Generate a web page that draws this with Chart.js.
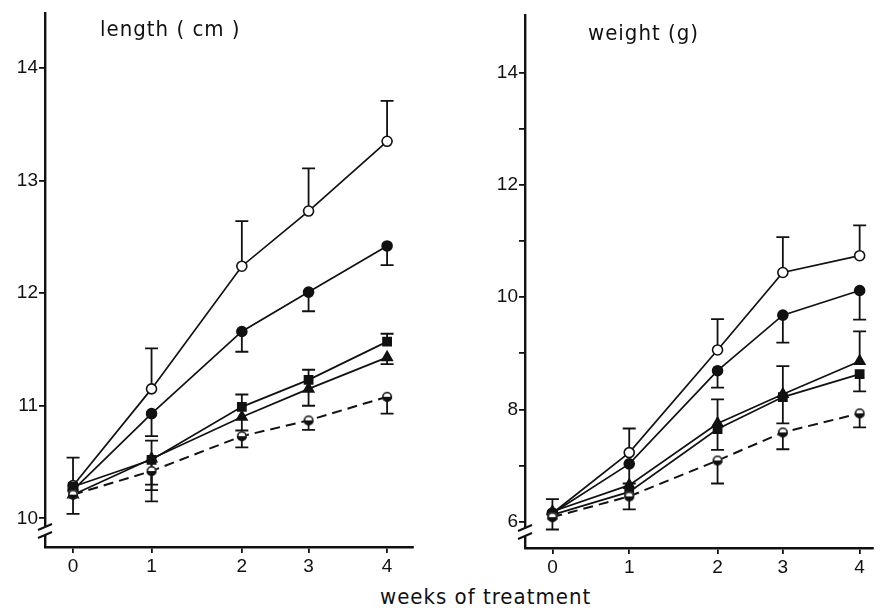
<!DOCTYPE html>
<html>
<head>
<meta charset="utf-8">
<script src="https://cdn.jsdelivr.net/npm/chart.js@4.4.0/dist/chart.umd.min.js"></script>
<style>
  body { margin: 0; background: #fff; width: 880px; height: 611px; position: relative; overflow: hidden; }
  #left-wrap { position: absolute; left: 0; top: 0; width: 430px; height: 575px; }
  #right-wrap { position: absolute; left: 430px; top: 0; width: 450px; height: 575px; }
  #xtitle { position: absolute; left: 380px; top: 584px; font: 22px "DejaVu Sans Condensed", "DejaVu Sans", sans-serif; letter-spacing: 1px; color: #111; white-space: nowrap; }
</style>
</head>
<body>
<div id="left-wrap"><canvas id="length-chart"></canvas></div>
<div id="right-wrap"><canvas id="weight-chart"></canvas></div>
<div id="xtitle">weeks of treatment</div>
<script>
// --- x positions of the weekly measurements (as plotted) and their labels ---
const weekPos = [0, 1, 2.15, 3, 4];
const weekLabels = ['0', '1', '2', '3', '4'];

// --- Length (cm) ---
const lengthTicks = [10, 11, 12, 13, 14];
const lenOpen = [10.29, 11.15, 12.24, 12.73, 13.35];
const lenOpenUp = [0.25, 0.36, 0.40, 0.38, 0.36];
const lenOpenDown = [0.25, null, null, null, null];
const lenFilled = [10.25, 10.93, 11.66, 12.01, 12.42];
const lenFilledDown = [null, 0.20, 0.18, 0.17, 0.17];
const lenSquare = [10.28, 10.52, 10.99, 11.23, 11.57];
const lenSquareUp = [null, 0.17, 0.11, 0.09, 0.07];
const lenSquareDown = [null, 0.22, null, null, null];
const lenTriangle = [10.21, 10.53, 10.90, 11.15, 11.43];
const lenTriangleDown = [null, 0.28, 0.12, 0.15, 0.06];
const lenHalf = [10.21, 10.42, 10.73, 10.87, 11.08];
const lenHalfDown = [null, 0.27, 0.10, 0.085, 0.15];

// --- Weight (g) ---
const weightTicks = [6, 7, 8, 9, 10, 11, 12, 13, 14];
const weightLabelled = [6, 8, 10, 12, 14];
const wOpen = [6.15, 7.23, 9.06, 10.44, 10.74];
const wOpenUp = [0.25, 0.43, 0.55, 0.63, 0.54];
const wOpenDown = [0.29, null, null, null, null];
const wFilled = [6.15, 7.03, 8.69, 9.68, 10.12];
const wFilledDown = [null, 0.35, 0.30, 0.49, 0.52];
const wTriangle = [6.18, 6.65, 7.75, 8.27, 8.86];
const wTriangleUp = [null, null, 0.43, 0.50, 0.53];
const wSquare = [6.12, 6.53, 7.65, 8.22, 8.63];
const wSquareDown = [null, null, 0.37, 0.47, 0.31];
const wHalf = [6.08, 6.45, 7.09, 7.59, 7.93];
const wHalfDown = [null, 0.23, 0.41, 0.30, 0.25];

const INK = '#111';

// half-filled circle marker used for the dashed series
function halfDot(r) {
    const c = document.createElement('canvas');
    const s = 2 * r + 2;
    c.width = c.height = s;
    const g = c.getContext('2d');
    g.beginPath(); g.arc(s / 2, s / 2, r, 0, Math.PI * 2); g.fillStyle = '#fff'; g.fill();
    g.beginPath(); g.arc(s / 2, s / 2, r, 0, Math.PI); g.fillStyle = INK; g.fill();
    g.beginPath(); g.arc(s / 2, s / 2, r - 0.8, 0, Math.PI * 2); g.lineWidth = 1.6; g.strokeStyle = INK; g.stroke();
    return c;
}

function series(values, marker, up, down) {
    const ds = {
        data: values.map((v, i) => ({ x: weekPos[i], y: v })),
        borderColor: INK,
        borderWidth: 1.7,
        pointBorderColor: INK,
        pointBorderWidth: 1.6,
        pointBackgroundColor: INK,
        pointRadius: 5,
        errUp: up,
        errDown: down
    };
    if (marker === 'open') ds.pointBackgroundColor = '#fff';
    if (marker === 'square') { ds.pointStyle = 'rect'; ds.pointRadius = 5.8; }
    if (marker === 'triangle') { ds.pointStyle = 'triangle'; ds.pointRadius = 6; }
    if (marker === 'half') { ds.pointStyle = halfDot(5); ds.borderDash = [10, 6]; ds.borderWidth = 2; }
    return ds;
}

// --- Plugins: error bars, axis break, panel title ---
const errorBars = {
    id: 'errorBars',
    beforeDatasetsDraw(chart) {
        const ctx = chart.ctx, xs = chart.scales.x, ys = chart.scales.y;
        ctx.save();
        ctx.strokeStyle = INK;
        ctx.lineWidth = 1.8;
        chart.data.datasets.forEach(ds => {
            ds.data.forEach((pt, i) => {
                const px = xs.getPixelForValue(pt.x);
                const py = ys.getPixelForValue(pt.y);
                [[ds.errUp, 1], [ds.errDown, -1]].forEach(([arr, sign]) => {
                    if (!arr || arr[i] == null) return;
                    const ey = ys.getPixelForValue(pt.y + sign * arr[i]);
                    ctx.beginPath();
                    ctx.moveTo(px, py); ctx.lineTo(px, ey);
                    ctx.moveTo(px - 6.5, ey); ctx.lineTo(px + 6.5, ey);
                    ctx.stroke();
                });
            });
        });
        ctx.restore();
    }
};

const axisBreak = {
    id: 'axisBreak',
    afterDraw(chart) {
        const ctx = chart.ctx, a = chart.chartArea;
        const x0 = a.left, y1 = a.bottom - 20, y2 = a.bottom - 12;
        ctx.save();
        ctx.fillStyle = '#fff';
        ctx.fillRect(x0 - 3, y1, 6, y2 - y1);
        ctx.strokeStyle = INK;
        ctx.lineWidth = 2;
        [y1, y2].forEach(y => {
            ctx.beginPath(); ctx.moveTo(x0 - 7, y + 3); ctx.lineTo(x0 + 7, y - 3); ctx.stroke();
        });
        ctx.restore();
    }
};

const panelTitle = {
    id: 'panelTitle',
    afterDraw(chart, args, opts) {
        const ctx = chart.ctx;
        ctx.save();
        ctx.font = opts.font;
        ctx.letterSpacing = '1px';
        ctx.fillStyle = INK;
        ctx.textBaseline = 'alphabetic';
        ctx.fillText(opts.text, chart.chartArea.left + opts.dx, opts.y);
        ctx.restore();
    }
};

const tickFont = { family: '"Liberation Sans", Arial, sans-serif', size: 19 };

function makeChart(canvasId, datasets, cfg) {
    return new Chart(document.getElementById(canvasId), {
        type: 'line',
        data: { datasets: datasets },
        plugins: [errorBars, axisBreak, panelTitle],
        options: {
            responsive: true,
            maintainAspectRatio: false,
            animation: false,
            layout: { padding: cfg.padding },
            plugins: {
                legend: { display: false },
                tooltip: { enabled: false },
                panelTitle: cfg.title
            },
            scales: {
                x: {
                    type: 'linear',
                    min: cfg.xMin,
                    max: cfg.xMax,
                    afterBuildTicks: s => { s.ticks = weekPos.map(v => ({ value: v })); },
                    afterFit: s => { s.height = cfg.xHeight; },
                    ticks: { color: INK, font: tickFont, padding: 2, maxRotation: 0, autoSkip: false,
                             callback: (v, i) => weekLabels[i] },
                    grid: { drawOnChartArea: false, drawTicks: true, tickLength: 6, color: INK, lineWidth: 1.8 },
                    border: { color: INK, width: 2.4 }
                },
                y: {
                    min: cfg.yMin,
                    max: cfg.yMax,
                    afterBuildTicks: s => { s.ticks = cfg.yTicks.map(v => ({ value: v })); },
                    afterFit: s => { s.width = cfg.yWidth; },
                    ticks: { color: INK, font: tickFont, padding: 1, autoSkip: false,
                             callback: v => cfg.yLabelled.includes(v) ? String(v) : '' },
                    grid: { drawOnChartArea: false, drawTicks: true, tickLength: 6, color: INK, lineWidth: 1.8 },
                    border: { color: INK, width: 2.4 }
                }
            }
        }
    });
}

const titleFont = '22px "DejaVu Sans Condensed", "DejaVu Sans", sans-serif';

makeChart('length-chart', [
    series(lenHalf, 'half', null, lenHalfDown),
    series(lenTriangle, 'triangle', null, lenTriangleDown),
    series(lenSquare, 'square', lenSquareUp, lenSquareDown),
    series(lenFilled, 'filled', null, lenFilledDown),
    series(lenOpen, 'open', lenOpenUp, lenOpenDown)
], {
    padding: { top: 13, right: 17, left: 0, bottom: 0 },
    xMin: -0.357, xMax: 4.33, xHeight: 28,
    yMin: 9.745, yMax: 14.49, yWidth: 45,
    yTicks: lengthTicks, yLabelled: lengthTicks,
    title: { text: 'length ( cm )', dx: 55, y: 36, font: titleFont }
});

makeChart('weight-chart', [
    series(wHalf, 'half', null, wHalfDown),
    series(wSquare, 'square', null, wSquareDown),
    series(wTriangle, 'triangle', wTriangleUp, null),
    series(wFilled, 'filled', null, wFilledDown),
    series(wOpen, 'open', wOpenUp, wOpenDown)
], {
    padding: { top: 15, right: 0, left: 0, bottom: 0 },
    xMin: -0.357, xMax: 4.166, xHeight: 27,
    yMin: 5.53, yMax: 15.03, yWidth: 95,
    yTicks: weightTicks, yLabelled: weightLabelled,
    title: { text: 'weight (g)', dx: 63, y: 40, font: titleFont }
});
</script>
</body>
</html>
